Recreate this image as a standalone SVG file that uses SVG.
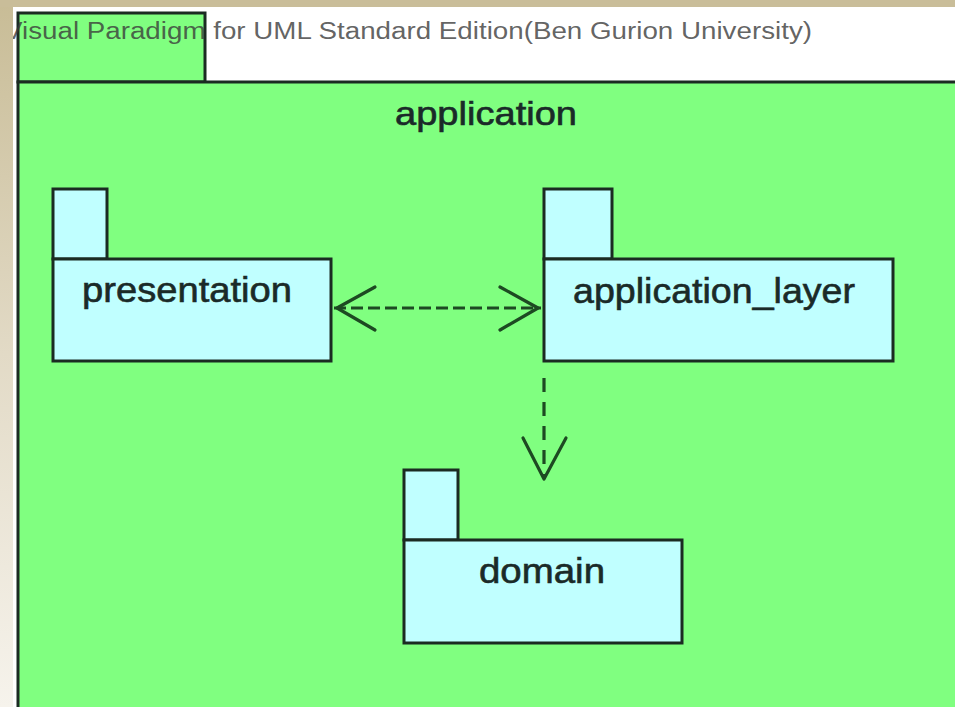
<svg xmlns="http://www.w3.org/2000/svg" width="955" height="707" viewBox="0 0 955 707">
  <defs>
    <linearGradient id="edge" x1="0" y1="0" x2="0" y2="1">
      <stop offset="0" stop-color="#c8bc96"/>
      <stop offset="0.5" stop-color="#e2dac6"/>
      <stop offset="1" stop-color="#f6f3ec"/>
    </linearGradient>
    <clipPath id="sheet">
      <rect x="13" y="7" width="942" height="700"/>
    </clipPath>
    <style>
      .pkg { fill: #c0ffff; stroke: #1b2b22; stroke-width: 3; }
      .outer { fill: #80ff80; stroke: #1b2b22; stroke-width: 3; }
      .name { font-family: "Liberation Sans", Arial, sans-serif; font-size: 35px; fill: #1a2a28; stroke: #1a2a28; stroke-width: 0.6; }
      .dep { fill: none; stroke: #1d4a22; stroke-width: 3.2; stroke-linecap: round; stroke-linejoin: round; }
      .dashH { stroke-dasharray: 12 5; stroke-linecap: butt; }
      .dashV { stroke-dasharray: 14 10; stroke-linecap: butt; }
      .mark { font-family: "Liberation Sans", Arial, sans-serif; font-size: 23px; fill: #3a3a3a; fill-opacity: 0.8; }
    </style>
  </defs>

  <!-- page background -->
  <rect x="0" y="0" width="955" height="707" fill="url(#edge)"/>
  <rect x="0" y="0" width="955" height="7" fill="#c9bd99"/>
  <rect x="13" y="7" width="942" height="700" fill="#ffffff"/>

  <!-- enclosing package: application -->
  <g id="application">
    <rect class="outer" x="18" y="13" width="187" height="69"/>
    <rect class="outer" x="18" y="82" width="950" height="640"/>
    <text class="name" x="395" y="125" textLength="182" lengthAdjust="spacingAndGlyphs" style="font-size:33px">application</text>
  </g>

  <!-- tool watermark -->
  <g clip-path="url(#sheet)">
    <text class="mark" x="4" y="39" textLength="808" lengthAdjust="spacingAndGlyphs">Visual Paradigm for UML Standard Edition(Ben Gurion University)</text>
  </g>

  <g id="presentation">
    <rect class="pkg" x="53" y="189" width="54" height="70"/>
    <rect class="pkg" x="53" y="259" width="278" height="102"/>
    <text class="name" x="82" y="302" textLength="210" lengthAdjust="spacingAndGlyphs">presentation</text>
  </g>

  <g id="application_layer">
    <rect class="pkg" x="544" y="189" width="68" height="70"/>
    <rect class="pkg" x="544" y="259" width="349" height="102"/>
    <text class="name" x="573" y="303" textLength="282" lengthAdjust="spacingAndGlyphs">application_layer</text>
  </g>

  <g id="domain">
    <rect class="pkg" x="404" y="470" width="54" height="70"/>
    <rect class="pkg" x="404" y="540" width="278" height="103"/>
    <text class="name" x="479" y="583" textLength="126" lengthAdjust="spacingAndGlyphs">domain</text>
  </g>

  <!-- dependencies -->
  <g id="connectors">
    <line class="dep dashH" x1="334" y1="308" x2="541" y2="308"/>
    <polyline class="dep" points="375,287 337,308 375,330"/>
    <polyline class="dep" points="500,287 538,308 500,330"/>
    <line class="dep dashV" x1="544" y1="378" x2="544" y2="476"/>
    <polyline class="dep" points="523,438 544,479 566,438"/>
  </g>
</svg>
